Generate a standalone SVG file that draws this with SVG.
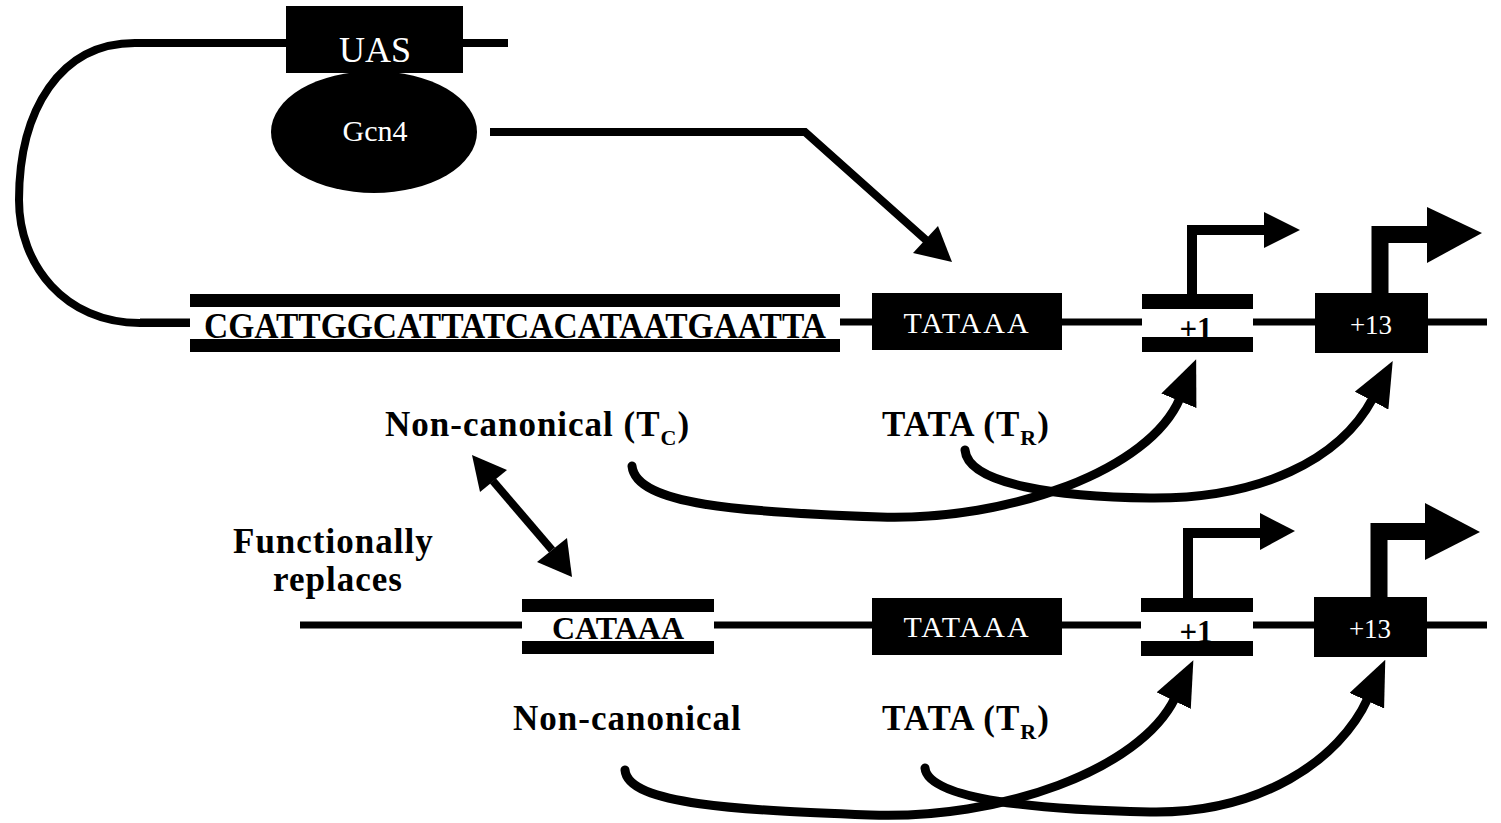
<svg xmlns="http://www.w3.org/2000/svg" width="1501" height="823" viewBox="0 0 1501 823">
<style>
.bg{fill:#fff}
.dna{stroke:#000;stroke-width:7;fill:none}
.wire{stroke:#000;stroke-width:8;fill:none}
.curve{stroke:#000;stroke-width:9;fill:none;stroke-linecap:round}
.blk{fill:#000}
.wht{fill:#fff}
.lbl{font-family:"Liberation Serif","Times New Roman",serif;font-weight:bold;font-size:35px;letter-spacing:1px;fill:#000}
.boxw{font-family:"Liberation Serif","Times New Roman",serif;fill:#fff;text-anchor:middle}
.boxb{font-family:"Liberation Serif","Times New Roman",serif;fill:#000;text-anchor:middle;font-weight:bold}
</style>
<defs>
<marker id="ah" viewBox="0 0 45 38" refX="3" refY="19" markerWidth="45" markerHeight="38" markerUnits="userSpaceOnUse" orient="auto">
<path d="M0,0 L45,19 L0,38 z" fill="#000"/>
</marker>
</defs>
<rect class="bg" x="0" y="0" width="1501" height="823"/>

<g id="connectors">
<path class="wire" d="M290,43 L135,43 C60,43 19,110 19,200 C19,265 65,323 140,323 L190,323"/>
<line class="wire" x1="460" y1="43" x2="508" y2="43"/>
<line class="dna" x1="140" y1="322" x2="1487" y2="322"/>
<line class="dna" x1="300" y1="625" x2="1487" y2="625"/>
<polyline class="wire" points="490,132 805,132 926,240" stroke-linejoin="miter"/>
<polygon class="blk" points="952,262 913,253 938,226"/>
<line class="wire" x1="493" y1="481" x2="552" y2="550" stroke-width="9"/>
<polygon class="blk" points="472,455 480,492 507,470"/>
<polygon class="blk" points="572,577 537,562 567,538"/>
<path class="curve" d="M632,466 C636,505 740,512 880,517 C1010,521 1150,470 1180,398" marker-end="url(#ah)"/>
<path class="curve" d="M965,450 C968,485 1060,497 1150,498 C1260,499 1340,460 1373,398" marker-end="url(#ah)"/>
<path class="curve" d="M625,770 C628,805 740,810 870,815 C1000,820 1140,770 1175,698" marker-end="url(#ah)"/>
<path class="curve" d="M925,768 C928,800 1040,810 1150,812 C1260,814 1340,760 1368,698" marker-end="url(#ah)"/>
<path d="M1192,296 V230 H1266" stroke="#000" stroke-width="10" fill="none"/>
<polygon class="blk" points="1264,212 1300,230 1264,248"/>
<path d="M1380,295 V234.5 H1429" stroke="#000" stroke-width="17" fill="none"/>
<polygon class="blk" points="1427,207 1482,233 1427,263"/>
<path d="M1188,600 V533 H1262" stroke="#000" stroke-width="10" fill="none"/>
<polygon class="blk" points="1260,513 1295,531 1260,550"/>
<path d="M1379,599 V531.5 H1427" stroke="#000" stroke-width="17" fill="none"/>
<polygon class="blk" points="1425,503 1480,532 1425,560"/>
</g>

<g id="uas">
<rect class="blk" x="286" y="6" width="177" height="67"/>
<text class="boxw" x="375" y="62" font-size="36">UAS</text>
</g>
<g id="gcn4">
<ellipse class="blk" cx="374" cy="132" rx="103" ry="61"/>
<text class="boxw" x="375" y="141" font-size="30">Gcn4</text>
</g>

<g id="seq">
<rect class="blk" x="190" y="294" width="650" height="58"/>
<rect class="wht" x="190" y="307" width="650" height="32"/>
<text class="boxb" x="515" y="338" font-size="36" textLength="622" lengthAdjust="spacingAndGlyphs">CGATTGGCATTATCACATAATGAATTA</text>
</g>
<g id="tata-top">
<rect class="blk" x="872" y="293" width="190" height="57"/>
<text class="boxw" x="967" y="333" font-size="30" letter-spacing="2">TATAAA</text>
</g>
<g id="p1-top">
<rect class="blk" x="1142" y="294" width="111" height="58"/>
<rect class="wht" x="1142" y="309" width="111" height="28"/>
<text class="boxb" x="1196" y="339" font-size="31" font-weight="normal">+1</text>
</g>
<g id="p13-top">
<rect class="blk" x="1315" y="293" width="113" height="60"/>
<text class="boxw" x="1371" y="334" font-size="27">+13</text>
</g>

<g id="cataaa">
<rect class="blk" x="522" y="599" width="192" height="55"/>
<rect class="wht" x="522" y="612" width="192" height="29"/>
<text class="boxb" x="618" y="639" font-size="32">CATAAA</text>
</g>
<g id="tata-bot">
<rect class="blk" x="872" y="598" width="190" height="57"/>
<text class="boxw" x="967" y="637" font-size="30" letter-spacing="2">TATAAA</text>
</g>
<g id="p1-bot">
<rect class="blk" x="1141" y="598" width="112" height="58"/>
<rect class="wht" x="1141" y="612" width="112" height="29"/>
<text class="boxb" x="1196" y="642" font-size="31" font-weight="normal">+1</text>
</g>
<g id="p13-bot">
<rect class="blk" x="1314" y="597" width="113" height="60"/>
<text class="boxw" x="1370" y="638" font-size="27">+13</text>
</g>

<g id="labels">
<text class="lbl" x="385" y="436">Non-canonical (T<tspan font-size="22" dy="9">C</tspan><tspan dy="-9">)</tspan></text>
<text class="lbl" x="882" y="436">TATA (T<tspan font-size="22" dy="9">R</tspan><tspan dy="-9">)</tspan></text>
<text class="lbl" x="233" y="553">Functionally</text>
<text class="lbl" x="273" y="591">replaces</text>
<text class="lbl" x="513" y="730">Non-canonical</text>
<text class="lbl" x="882" y="730">TATA (T<tspan font-size="22" dy="9">R</tspan><tspan dy="-9">)</tspan></text>
</g>
</svg>
